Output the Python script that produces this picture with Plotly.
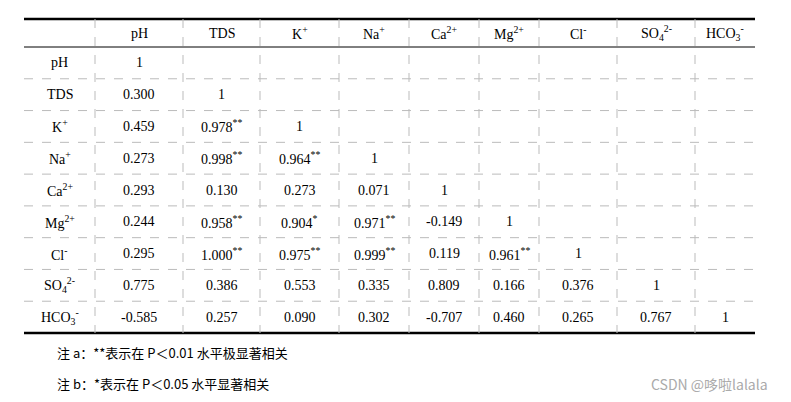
import plotly.graph_objects as go

# Variables (row/column labels)
labels = ["pH", "TDS", "K<sup>+</sup>", "Na<sup>+</sup>", "Ca<sup>2+</sup>", "Mg<sup>2+</sup>",
          "Cl<sup>-</sup>", "SO<sub>4</sub><sup>2-</sup>", "HCO<sub>3</sub><sup>-</sup>"]

# Lower-triangle correlation coefficients
corr = [
    ["1"],
    ["0.300", "1"],
    ["0.459", "0.978", "1"],
    ["0.273", "0.998", "0.964", "1"],
    ["0.293", "0.130", "0.273", "0.071", "1"],
    ["0.244", "0.958", "0.904", "0.971", "-0.149", "1"],
    ["0.295", "1.000", "0.975", "0.999", "0.119", "0.961", "1"],
    ["0.775", "0.386", "0.553", "0.335", "0.809", "0.166", "0.376", "1"],
    ["-0.585", "0.257", "0.090", "0.302", "-0.707", "0.460", "0.265", "0.767", "1"],
]

# Significance marks
sig = [
    [""],
    ["", ""],
    ["", "**", ""],
    ["", "**", "**", ""],
    ["", "", "", "", ""],
    ["", "**", "*", "**", "", ""],
    ["", "**", "**", "**", "", "**", ""],
    ["", "", "", "", "", "", "", ""],
    ["", "", "", "", "", "", "", "", ""],
]

notes = ["注 a：**表示在 P＜0.01 水平极显著相关", "注 b：*表示在 P＜0.05 水平显著相关"]

col_edges = [24, 95, 183, 260, 339, 409, 479, 539, 617, 695, 755]
top, header_bottom, bottom = 19, 47, 333
n = len(labels)
row_h = (bottom - header_bottom) / n

font = dict(family="Liberation Serif", size=14, color="black")
shapes = []
ann = []

# horizontal rules
shapes.append(dict(type="line", x0=col_edges[0], x1=col_edges[-1], y0=top, y1=top, line=dict(color="black", width=2.5)))
shapes.append(dict(type="line", x0=col_edges[0], x1=col_edges[-1], y0=header_bottom, y1=header_bottom, line=dict(color="black", width=1)))
shapes.append(dict(type="line", x0=col_edges[0], x1=col_edges[-1], y0=bottom, y1=bottom, line=dict(color="black", width=2.5)))
for i in range(1, n):
    y = header_bottom + i * row_h
    shapes.append(dict(type="line", x0=col_edges[0], x1=col_edges[-1], y0=y, y1=y, line=dict(color="#bbbbbb", width=1, dash="dash")))
for x in col_edges[1:-1]:
    shapes.append(dict(type="line", x0=x, x1=x, y0=top, y1=bottom, line=dict(color="#bbbbbb", width=1, dash="dash")))

def cx(j):
    return (col_edges[j] + col_edges[j + 1]) / 2

# header
for j, lab in enumerate(labels):
    ann.append(dict(x=cx(j + 1), y=(top + header_bottom) / 2, text=lab))
# body
for i, lab in enumerate(labels):
    yc = header_bottom + (i + 0.5) * row_h
    ann.append(dict(x=cx(0), y=yc, text=lab))
    for j, v in enumerate(corr[i]):
        t = v + (f"<sup>{sig[i][j]}</sup>" if sig[i][j] else "")
        ann.append(dict(x=cx(j + 1), y=yc, text=t))

for a in ann:
    a.update(showarrow=False, font=font, xanchor="center", yanchor="middle")

for k, t in enumerate(notes):
    ann.append(dict(x=55, y=352 + 31 * k, text=t, showarrow=False, xanchor="left", yanchor="middle",
                    font=dict(family="Noto Sans CJK SC", size=13, color="black")))
ann.append(dict(x=770, y=384, text="CSDN @哆啦lalala", showarrow=False, xanchor="right", yanchor="middle",
                font=dict(family="Noto Sans CJK SC", size=14, color="#aaaaaa")))

# page body has an 8px margin, so shift the coordinate frame to compensate
off = 8
fig = go.Figure()
fig.update_layout(
    width=791, height=402, margin=dict(l=0, r=0, t=0, b=0),
    paper_bgcolor="white", plot_bgcolor="white",
    xaxis=dict(range=[off, 791 + off], visible=False, fixedrange=True),
    yaxis=dict(range=[402 + off, off], visible=False, fixedrange=True),
    shapes=shapes, annotations=ann, showlegend=False,
)
fig.write_html("out.html")
